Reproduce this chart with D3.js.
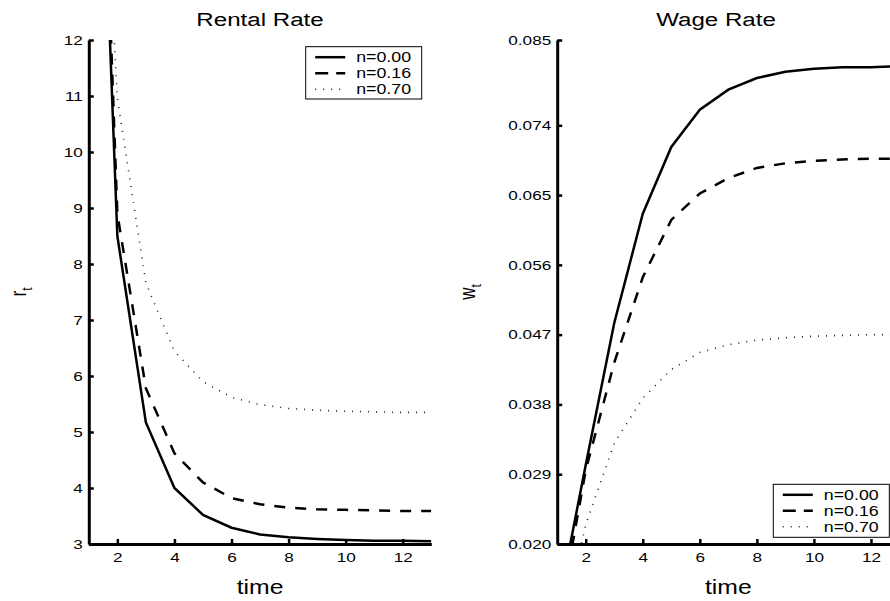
<!DOCTYPE html>
<html>
<head>
<meta charset="utf-8">
<script src="https://cdn.jsdelivr.net/npm/d3@7"></script>
<style>
  html, body { margin: 0; padding: 0; background: #fff; }
  svg { display: block; }
  text { font-family: "Liberation Sans", Arial, Helvetica, sans-serif; fill: #000; }
</style>
</head>
<body>
<svg id="chart" width="890" height="601"></svg>
<script>
// ── Data ─────────────────────────────────────────────────────────────────────

const time = [1, 2, 3, 4, 5, 6, 7, 8, 9, 10, 11, 12, 13];
const seriesNames = ['n=0.00', 'n=0.16', 'n=0.70'];

// rental rate r_t
const rentalN000 = [22.0, 8.5, 5.17, 4.0, 3.52, 3.29, 3.17, 3.12, 3.09, 3.07, 3.06, 3.06, 3.05];
const rentalN016 = [23.0, 8.9, 5.78, 4.62, 4.1, 3.82, 3.71, 3.65, 3.62, 3.61, 3.60, 3.59, 3.59];
const rentalN070 = [20.5, 10.96, 7.66, 6.44, 5.9, 5.62, 5.49, 5.42, 5.39, 5.37, 5.36, 5.35, 5.35];

// wage rate w_t
const wageN000 = [0.0114, 0.0302, 0.0485, 0.0626, 0.0712, 0.0760, 0.0786, 0.0801, 0.0809, 0.0813, 0.0815, 0.0815, 0.0816];
const wageN016 = [0.0090, 0.0295, 0.0434, 0.0544, 0.0618, 0.0652, 0.0672, 0.0685, 0.0691, 0.0694, 0.0696, 0.0697, 0.0697];
const wageN070 = [0.0060, 0.0225, 0.0330, 0.0388, 0.0425, 0.0447, 0.0457, 0.0463, 0.0466, 0.0468, 0.0469, 0.0470, 0.0470];

const xTicks      = [2, 4, 6, 8, 10, 12];
const rentalTicks = [3, 4, 5, 6, 7, 8, 9, 10, 11, 12];
const wageTicks   = [0.020, 0.029, 0.038, 0.047, 0.056, 0.065, 0.074, 0.085];

// ── Styling ───────────────────────────────────────────────────────────────────

const SX = 1.27;            // the reference figure is stretched horizontally
const TOP = 40, BOTTOM = 544;
const lineStyles = [
  { width: 2.5, dash: null,    color: '#000' },
  { width: 2.5, dash: '11,10', color: '#000' },
  { width: 1.6, dash: '1,7',   color: '#222' },
];

const svg = d3.select('#chart');

function stretchedText(g, x, y, str, size, anchor) {
  return g.append('text')
    .attr('transform', `translate(${x},${y}) scale(${SX},1)`)
    .attr('font-size', size)
    .attr('text-anchor', anchor || 'middle')
    .text(str);
}

function drawPanel(opts) {
  const { id, x0, x1, yDomain, yTicks, yFmt, series, title, titleX, yLabel, yLabelX, legend } = opts;

  const x = d3.scaleLinear().domain([1, 13]).range([x0, x1]);
  const y = d3.scaleLinear().domain(yDomain).range([BOTTOM, TOP]);
  const g = svg.append('g');

  g.append('clipPath').attr('id', `clip-${id}`)
    .append('rect').attr('x', x0).attr('y', TOP).attr('width', x1 - x0).attr('height', BOTTOM - TOP);

  const line = d3.line().x((d, i) => x(time[i])).y(d => y(d));

  series.forEach((vals, i) => {
    const s = lineStyles[i];
    g.append('path')
      .datum(vals)
      .attr('clip-path', `url(#clip-${id})`)
      .attr('d', line)
      .attr('fill', 'none')
      .attr('stroke', s.color)
      .attr('stroke-width', s.width)
      .attr('stroke-dasharray', s.dash)
      .attr('stroke-linejoin', 'miter');
  });

  // axes — MATLAB style: box off, ticks pointing inward
  const xAxis = g.append('g').attr('transform', `translate(0,${BOTTOM})`)
    .call(d3.axisBottom(x).tickValues(xTicks).tickSizeInner(-5).tickSizeOuter(0).tickPadding(8));
  const yAxis = g.append('g').attr('transform', `translate(${x0},0)`)
    .call(d3.axisLeft(y).tickValues(yTicks).tickFormat(yFmt).tickSizeInner(-5).tickSizeOuter(0).tickPadding(6));

  [xAxis, yAxis].forEach(a => {
    a.select('.domain').attr('stroke', '#000').attr('stroke-width', 3);
    a.selectAll('.tick line').attr('stroke', '#000').attr('stroke-width', 2.5);
    a.selectAll('.tick text').attr('font-size', 13.5).attr('fill', '#000')
      .attr('font-family', '"Liberation Sans", Arial, sans-serif');
  });
  xAxis.selectAll('.tick text').attr('transform', `scale(${SX},1)`);
  yAxis.selectAll('.tick text').attr('x', -6 / SX).attr('transform', `scale(${SX},1)`);

  stretchedText(g, titleX, 26, title, 19);
  stretchedText(g, (x0 + x1) / 2, 594, 'time', 19.5);

  // rotated y label with subscript t
  const yl = g.append('text')
    .attr('transform', `translate(${yLabelX},292) scale(${SX},1) rotate(-90)`)
    .attr('font-size', 17).attr('text-anchor', 'middle');
  yl.append('tspan').text(yLabel);
  yl.append('tspan').attr('font-size', 12).attr('dy', 5).text('t');

  // legend
  const lg = g.append('g');
  lg.append('rect')
    .attr('x', legend.x).attr('y', legend.y).attr('width', legend.w).attr('height', legend.h)
    .attr('fill', '#fff').attr('stroke', '#000').attr('stroke-width', 1);
  seriesNames.forEach((name, i) => {
    const s = lineStyles[i];
    const ry = legend.y + 10.5 + i * 16;
    lg.append('line')
      .attr('x1', legend.x + 9.5).attr('x2', legend.x + 39.5).attr('y1', ry).attr('y2', ry)
      .attr('stroke', s.color).attr('stroke-width', s.width)
      .attr('stroke-dasharray', i === 1 ? '13,8' : s.dash);
    stretchedText(lg, legend.x + 50.5, ry + 5, name, 14, 'start');
  });
}

drawPanel({
  id: 'rent', x0: 88.8, x1: 431.3,
  yDomain: [3, 12], yTicks: rentalTicks, yFmt: d3.format('d'),
  series: [rentalN000, rentalN016, rentalN070],
  title: 'Rental Rate', titleX: 260, yLabel: 'r', yLabelX: 26,
  legend: { x: 305.7, y: 46.7, w: 116, h: 52.3 },
});

drawPanel({
  id: 'wage', x0: 557.2, x1: 899.5,
  yDomain: [0.020, 0.085], yTicks: wageTicks, yFmt: d3.format('.3f'),
  series: [wageN000, wageN016, wageN070],
  title: 'Wage Rate', titleX: 716, yLabel: 'w', yLabelX: 475,
  legend: { x: 773.3, y: 484.3, w: 116, h: 53 },
});
</script>
</body>
</html>
